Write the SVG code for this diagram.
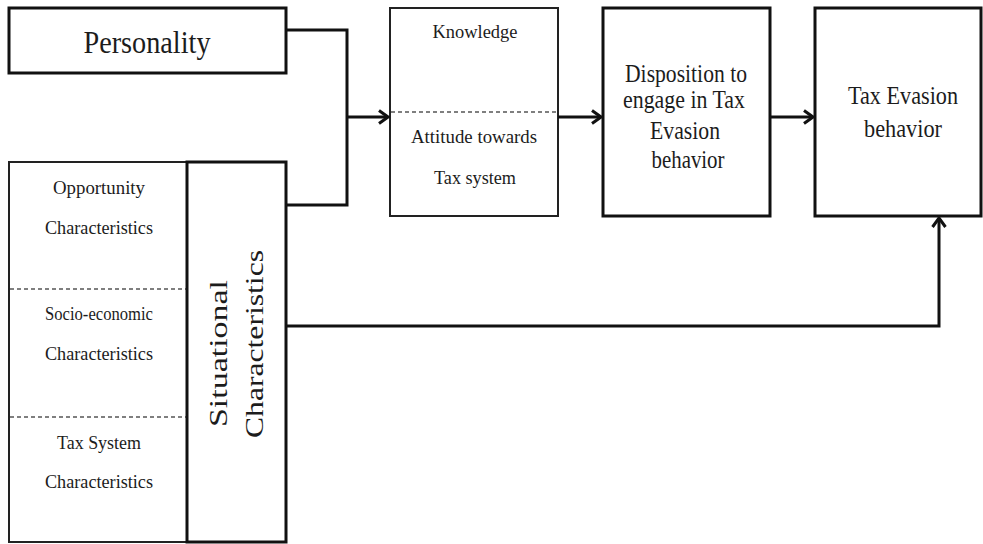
<svg xmlns="http://www.w3.org/2000/svg" width="983" height="544" viewBox="0 0 983 544">
<style>
.box{fill:#fff;stroke:#111;stroke-width:3}
.thin{fill:#fff;stroke:#222;stroke-width:2}
.dash{stroke:#555;stroke-width:1.3;stroke-dasharray:4 3;fill:none}
.conn{fill:none;stroke:#111;stroke-width:3}
text{font-family:"Liberation Serif","Times New Roman",serif;fill:#1c1c1c;text-anchor:middle}
.s{font-size:18px}
.m{font-size:25px}
</style>
<defs>
<marker id="arr" viewBox="0 0 12 16" refX="10" refY="8" markerWidth="12" markerHeight="16" markerUnits="userSpaceOnUse" orient="auto">
<path d="M1,1.5 L10,8 L1,14.5" fill="none" stroke="#111" stroke-width="3"/>
</marker>
</defs>
<rect width="983" height="544" fill="#fff"/>
<g id="personality">
<rect class="box" x="9" y="8" width="277" height="65"/>
<text x="147" y="53" style="font-size:32px" textLength="127" lengthAdjust="spacingAndGlyphs">Personality</text>
</g>
<g id="characteristics">
<rect class="thin" x="9" y="162" width="178" height="380"/>
<line class="dash" x1="10" y1="289" x2="186" y2="289"/>
<line class="dash" x1="10" y1="417" x2="186" y2="417"/>
<text class="s" x="99" y="194" textLength="92" lengthAdjust="spacingAndGlyphs">Opportunity</text>
<text class="s" x="99" y="234" textLength="108" lengthAdjust="spacingAndGlyphs">Characteristics</text>
<text class="s" x="99" y="320" textLength="108" lengthAdjust="spacingAndGlyphs">Socio-economic</text>
<text class="s" x="99" y="360" textLength="108" lengthAdjust="spacingAndGlyphs">Characteristics</text>
<text class="s" x="99" y="449" textLength="84" lengthAdjust="spacingAndGlyphs">Tax System</text>
<text class="s" x="99" y="488" textLength="108" lengthAdjust="spacingAndGlyphs">Characteristics</text>
</g>
<g id="situational">
<rect class="box" x="187" y="162" width="99" height="380"/>
<text transform="translate(227,353.5) rotate(-90)" style="font-size:26px" x="0" y="0" textLength="147" lengthAdjust="spacingAndGlyphs">Situational</text>
<text transform="translate(263,344) rotate(-90)" style="font-size:26px" x="0" y="0" textLength="188" lengthAdjust="spacingAndGlyphs">Characteristics</text>
</g>
<g id="knowledge">
<rect class="thin" x="390" y="8" width="168" height="208"/>
<line class="dash" x1="391" y1="112" x2="557" y2="112"/>
<text class="s" x="475" y="38" textLength="85" lengthAdjust="spacingAndGlyphs">Knowledge</text>
<text class="s" x="474" y="143" textLength="126" lengthAdjust="spacingAndGlyphs">Attitude towards</text>
<text class="s" x="475" y="184" textLength="82" lengthAdjust="spacingAndGlyphs">Tax system</text>
</g>
<g id="disposition">
<rect class="box" x="603" y="8" width="167" height="208"/>
<text class="m" x="686" y="82" textLength="122" lengthAdjust="spacingAndGlyphs">Disposition to</text>
<text class="m" x="684" y="108" textLength="122" lengthAdjust="spacingAndGlyphs">engage in Tax</text>
<text class="m" x="685" y="139" textLength="70" lengthAdjust="spacingAndGlyphs">Evasion</text>
<text class="m" x="688" y="168" textLength="73" lengthAdjust="spacingAndGlyphs">behavior</text>
</g>
<g id="tax-evasion">
<rect class="box" x="815" y="8" width="166" height="208"/>
<text class="m" x="903" y="104" textLength="110" lengthAdjust="spacingAndGlyphs">Tax Evasion</text>
<text class="m" x="903" y="137" textLength="78" lengthAdjust="spacingAndGlyphs">behavior</text>
</g>
<g id="connectors">
<path class="conn" d="M286,30 H347 V205 H286"/>
<path class="conn" d="M347,117 H388" marker-end="url(#arr)"/>
<path class="conn" d="M558,117 H601" marker-end="url(#arr)"/>
<path class="conn" d="M770,117 H813" marker-end="url(#arr)"/>
<path class="conn" d="M286,326 H939 V218" marker-end="url(#arr)"/>
</g>
</svg>
